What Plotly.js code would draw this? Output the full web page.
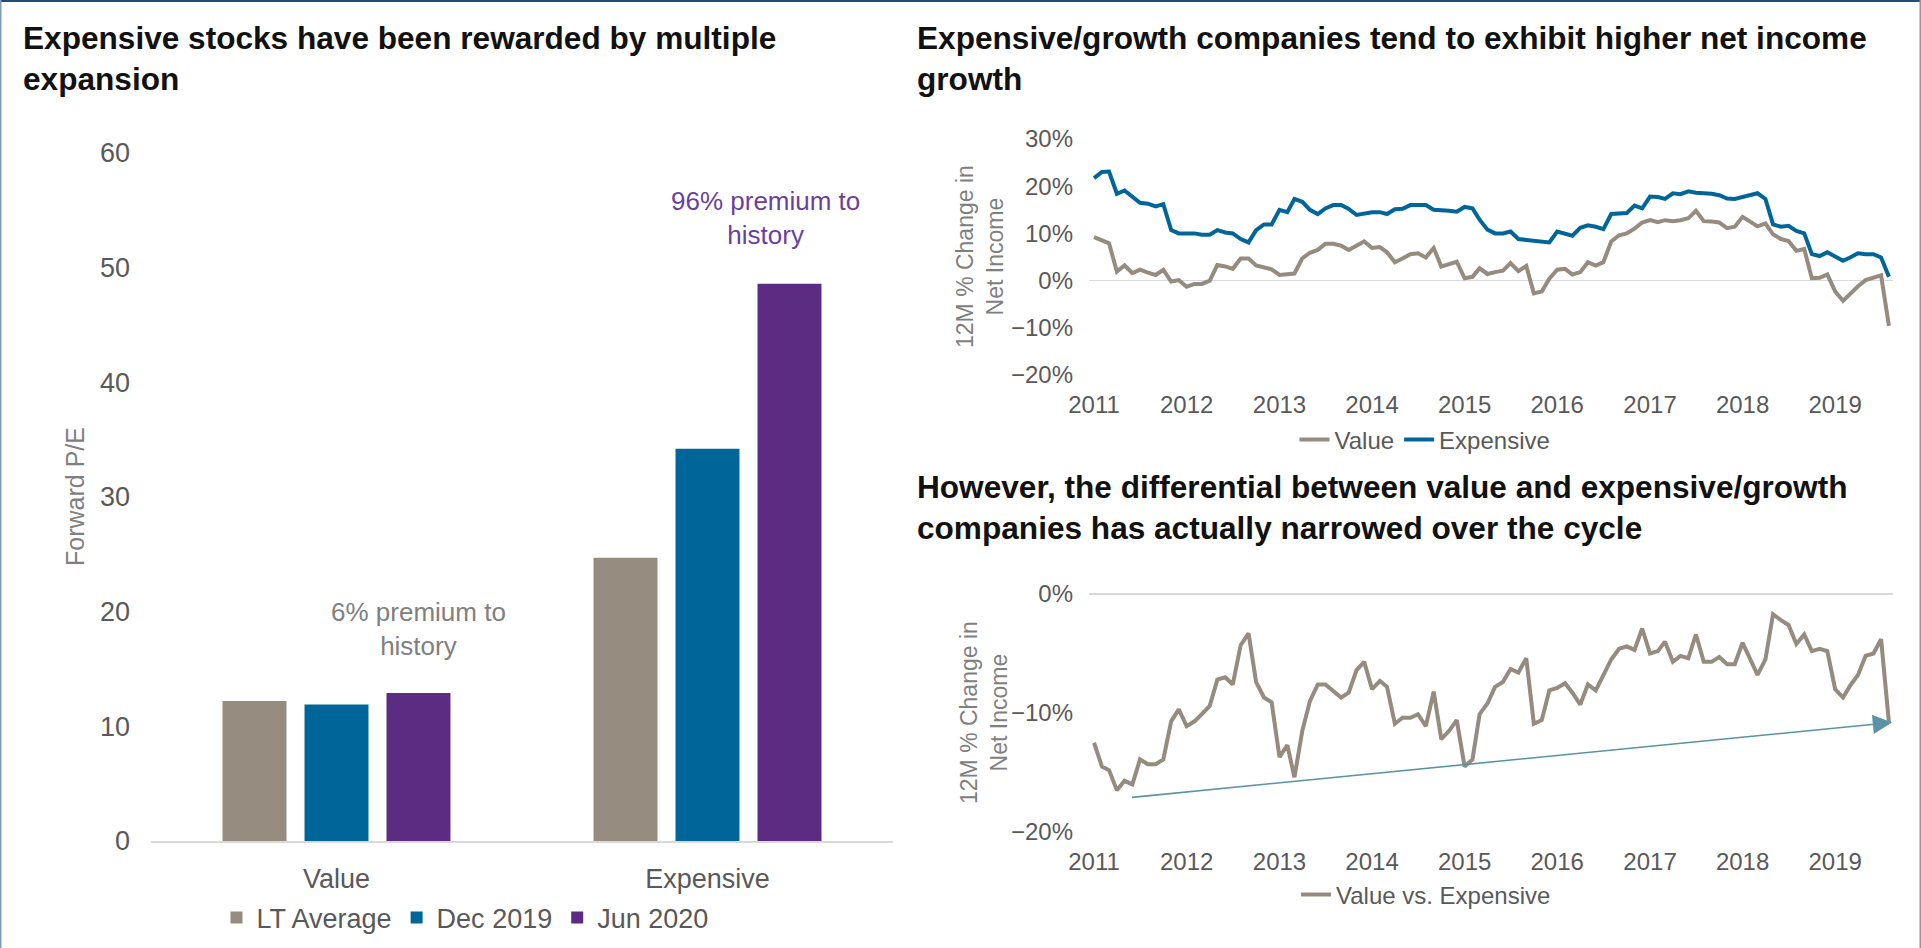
<!DOCTYPE html>
<html>
<head>
<meta charset="utf-8">
<script src="https://cdn.plot.ly/plotly-3.0.1.min.js"></script>
<style>html,body{margin:0;padding:0;background:#fff;}#chart{width:1921px;height:948px;}</style>
</head>
<body>
<div id="chart"></div>
<script>
// ---------- Data ----------
const barCategories = ['Value', 'Expensive'];
const ltAverage = [12.2, 24.7];
const dec2019 = [11.9, 34.2];
const jun2020 = [12.9, 48.6];

const startMonth = '2011-01'; // monthly series, Jan 2011 - Aug 2019
const valueGrowth = [
  9.2, 8.4, 7.9, 1.9, 3.2, 1.6, 2.3, 1.7, 1.2, 2.3, -0.2, 0.1,
  -1.3, -0.7, -0.7, 0.0, 3.3, 3.0, 2.5, 4.7, 4.7, 3.2, 2.8, 2.4,
  1.2, 1.4, 1.5, 4.7, 5.9, 6.5, 7.8, 7.8, 7.4, 6.5, 7.4, 8.3,
  6.9, 7.1, 6.0, 3.9, 4.7, 5.6, 5.8, 4.9, 6.9, 3.0, 3.5, 4.0,
  0.5, 0.8, 2.6, 1.4, 1.8, 2.1, 3.7, 2.0, 3.1, -2.7, -2.3, 0.4,
  2.3, 2.5, 1.3, 1.8, 3.9, 3.2, 3.9, 8.3, 9.6, 10.0, 11.0, 12.3,
  12.8, 12.4, 12.8, 12.6, 12.8, 13.2, 14.8, 12.6, 12.5, 12.3, 11.1, 11.4,
  13.5, 12.4, 11.5, 12.1, 9.8, 8.8, 8.4, 6.3, 6.7, 0.5, 0.6, 1.3,
  -2.3, -4.3, -2.8, -1.2, 0.1, 0.6, 1.1, -9.6
];
const expensiveGrowth = [
  21.7, 23.0, 23.1, 18.4, 19.1, 17.8, 16.5, 16.3, 15.7, 16.2, 10.7, 10.0,
  10.0, 10.0, 9.7, 9.7, 10.7, 10.2, 10.0, 8.8, 8.1, 10.7, 11.9, 11.9,
  15.0, 14.5, 17.3, 16.7, 15.0, 14.1, 15.3, 16.0, 16.0, 15.2, 13.9, 14.3,
  14.5, 14.5, 14.1, 15.1, 15.2, 16.0, 16.0, 16.0, 15.0, 15.0, 14.8, 14.6,
  15.6, 15.3, 12.9, 10.8, 10.0, 10.0, 10.4, 8.8, 8.6, 8.3, 8.2, 8.1,
  10.4, 10.0, 9.5, 11.2, 11.7, 11.4, 10.9, 14.1, 14.3, 14.3, 15.9, 15.3,
  17.8, 17.7, 17.3, 18.5, 18.3, 18.9, 18.6, 18.6, 18.4, 18.1, 17.4, 17.3,
  17.7, 18.2, 18.5, 17.3, 11.9, 11.4, 11.6, 10.5, 10.0, 5.6, 5.2, 6.0,
  5.2, 4.2, 4.9, 5.8, 5.6, 5.6, 4.9, 0.8
];
const valueVsExpensive = [
  -12.5, -14.5, -14.8, -16.5, -15.7, -16.0, -13.9, -14.3, -14.3, -13.9, -10.7, -9.7,
  -11.1, -10.7, -10.1, -9.4, -7.2, -7.0, -7.6, -4.3, -3.3, -7.4, -8.7, -9.1,
  -13.7, -12.7, -15.4, -11.5, -9.0, -7.6, -7.6, -8.1, -8.7, -8.3, -6.4, -5.7,
  -8.0, -7.3, -7.8, -10.9, -10.4, -10.4, -10.1, -11.1, -8.2, -12.2, -11.5, -10.6,
  -14.5, -13.9, -10.1, -9.2, -7.8, -7.4, -6.3, -6.6, -5.4, -10.9, -10.6, -8.1,
  -7.9, -7.5, -8.3, -9.3, -7.6, -8.1, -6.9, -5.5, -4.6, -4.4, -4.7, -2.9,
  -5.0, -4.8, -4.0, -5.7, -5.2, -5.4, -3.4, -5.7, -5.7, -5.3, -5.9, -5.9,
  -4.1, -5.5, -6.8, -5.5, -1.7, -2.2, -2.6, -4.2, -3.4, -4.8, -4.6, -4.8,
  -8.0, -8.7, -7.7, -6.8, -5.2, -5.0, -3.8, -10.8
];
// trend arrow (start / end)
const trendStart = {date: '2011-05-25', value: -17.1};
const trendEnd = {date: '2019-08-13', value: -10.8};

// ---------- Helpers ----------
function monthDates(start, n) {
  const [y0, m0] = start.split('-').map(Number);
  const out = [];
  for (let i = 0; i < n; i++) {
    const t = (m0 - 1) + i;
    const y = y0 + Math.floor(t / 12);
    const m = (t % 12) + 1;
    out.push(y + '-' + String(m).padStart(2, '0') + '-01');
  }
  return out;
}
const dates = monthDates(startMonth, valueGrowth.length);

const W = 1921, H = 948;
const fx = p => p / W;
const fy = p => 1 - p / H;

const C_GREY = '#958b7f', C_BLUE = '#006699', C_PURPLE = '#5b2c81';
const FONT = 'Liberation Sans, Arial, sans-serif';

const traces = [
  {type: 'bar', name: 'LT Average', x: barCategories, y: ltAverage, marker: {color: C_GREY}, xaxis: 'x', yaxis: 'y', legend: 'legend'},
  {type: 'bar', name: 'Dec 2019', x: barCategories, y: dec2019, marker: {color: C_BLUE}, xaxis: 'x', yaxis: 'y', legend: 'legend'},
  {type: 'bar', name: 'Jun 2020', x: barCategories, y: jun2020, marker: {color: C_PURPLE}, xaxis: 'x', yaxis: 'y', legend: 'legend'},
  {type: 'scatter', mode: 'lines', name: 'Value', x: dates, y: valueGrowth, line: {color: C_GREY, width: 4}, xaxis: 'x2', yaxis: 'y2', legend: 'legend2'},
  {type: 'scatter', mode: 'lines', name: 'Expensive', x: dates, y: expensiveGrowth, line: {color: C_BLUE, width: 4}, xaxis: 'x2', yaxis: 'y2', legend: 'legend2'},
  {type: 'scatter', mode: 'lines', name: 'Value vs. Expensive', x: dates, y: valueVsExpensive, line: {color: C_GREY, width: 4}, xaxis: 'x3', yaxis: 'y3', legend: 'legend3'}
];

const tickGrey = '#595959';
const dateAxis = (dom, anchor) => ({
  domain: dom, anchor: anchor, type: 'date',
  range: ['2010-12-12', '2019-08-17'],
  tick0: '2011-01-01', dtick: 'M12', tickformat: '%Y',
  showgrid: false, zeroline: false, showline: false, ticks: '',
  tickfont: {size: 24, color: tickGrey}, ticklabelstandoff: 13
});
const titleFont = {size: 31.6, color: '#111111', weight: 'bold'};

const layout = {
  width: W, height: H,
  margin: {l: 0, r: 0, t: 0, b: 0},
  paper_bgcolor: '#ffffff', plot_bgcolor: '#ffffff',
  font: {family: FONT, color: tickGrey},
  hovermode: false,
  barmode: 'group', bargap: 0.337, bargroupgap: 0.22,
  xaxis: {
    domain: [fx(151), fx(893)], anchor: 'y',
    showline: true, linecolor: '#d9d9d9', linewidth: 1.5,
    ticks: '', tickfont: {size: 27, color: tickGrey}, ticklabelstandoff: 13
  },
  yaxis: {
    domain: [fy(841), fy(153)], anchor: 'x', range: [0, 60], dtick: 10,
    showgrid: false, zeroline: false, showline: false, ticks: '',
    tickfont: {size: 27, color: tickGrey}, ticklabelstandoff: 20
  },
  xaxis2: dateAxis([fx(1089), fx(1893)], 'y2'),
  yaxis2: {
    domain: [fy(375), fy(139)], anchor: 'x2', range: [-20, 30], dtick: 10, ticksuffix: '%',
    showgrid: false, zeroline: true, zerolinecolor: '#d9d9d9', zerolinewidth: 1.5, showline: false, ticks: '',
    tickfont: {size: 24, color: tickGrey}, ticklabelstandoff: 15
  },
  xaxis3: dateAxis([fx(1089), fx(1893)], 'y3'),
  yaxis3: {
    domain: [fy(832), fy(594)], anchor: 'x3', range: [-20, 0], dtick: 10, ticksuffix: '%',
    showgrid: false, zeroline: true, zerolinecolor: '#d9d9d9', zerolinewidth: 1.5, showline: false, ticks: '',
    tickfont: {size: 24, color: tickGrey}, ticklabelstandoff: 15
  },
  legend: {
    orientation: 'h', x: fx(465), xanchor: 'center', y: fy(918), yanchor: 'middle',
    font: {size: 27, color: tickGrey}, bgcolor: 'rgba(0,0,0,0)', itemwidth: 30
  },
  legend2: {
    orientation: 'h', x: fx(1425), xanchor: 'center', y: fy(440), yanchor: 'middle',
    font: {size: 24, color: tickGrey}, bgcolor: 'rgba(0,0,0,0)'
  },
  legend3: {
    orientation: 'h', x: fx(1426), xanchor: 'center', y: fy(895), yanchor: 'middle',
    font: {size: 24, color: tickGrey}, bgcolor: 'rgba(0,0,0,0)'
  },
  annotations: [
    {xref: 'paper', yref: 'paper', x: fx(21), y: fy(18), xanchor: 'left', yanchor: 'top', align: 'left', showarrow: false,
     text: 'Expensive stocks have been rewarded by multiple<br>expansion', font: titleFont},
    {xref: 'paper', yref: 'paper', x: fx(915), y: fy(18), xanchor: 'left', yanchor: 'top', align: 'left', showarrow: false,
     text: 'Expensive/growth companies tend to exhibit higher net income<br>growth', font: titleFont},
    {xref: 'paper', yref: 'paper', x: fx(915), y: fy(467), xanchor: 'left', yanchor: 'top', align: 'left', showarrow: false,
     text: 'However, the differential between value and expensive/growth<br>companies has actually narrowed over the cycle', font: titleFont},
    {xref: 'paper', yref: 'paper', x: fx(765), y: fy(218), xanchor: 'center', yanchor: 'middle', showarrow: false,
     text: '96% premium to<br>history', font: {size: 26, color: '#6b3fa0'}},
    {xref: 'paper', yref: 'paper', x: fx(418), y: fy(629), xanchor: 'center', yanchor: 'middle', showarrow: false,
     text: '6% premium to<br>history', font: {size: 26, color: '#808080'}},
    {xref: 'paper', yref: 'paper', x: fx(75), y: fy(497), xanchor: 'center', yanchor: 'middle', showarrow: false, textangle: -90,
     text: 'Forward P/E', font: {size: 25, color: '#7f7f7f'}},
    {xref: 'paper', yref: 'paper', x: fx(980), y: fy(257), xanchor: 'center', yanchor: 'middle', showarrow: false, textangle: -90,
     text: '12M % Change in<br>Net Income', font: {size: 23, color: '#7f7f7f'}},
    {xref: 'paper', yref: 'paper', x: fx(984), y: fy(713), xanchor: 'center', yanchor: 'middle', showarrow: false, textangle: -90,
     text: '12M % Change in<br>Net Income', font: {size: 23, color: '#7f7f7f'}},
    {xref: 'x3', yref: 'y3', x: trendEnd.date, y: trendEnd.value, axref: 'x3', ayref: 'y3', ax: trendStart.date, ay: trendStart.value,
     text: '', showarrow: true, arrowhead: 2, arrowsize: 2.4, arrowwidth: 1.6, arrowcolor: '#5a93a3', standoff: 0}
  ],
  shapes: [
    {type: 'line', xref: 'paper', yref: 'paper', x0: 0, x1: 1, y0: 1, y1: 1, line: {color: '#1f4e79', width: 4}},
    {type: 'line', xref: 'paper', yref: 'paper', x0: 0, x1: 0, y0: 0, y1: 1, line: {color: '#7f9cb6', width: 3}},
    {type: 'line', xref: 'paper', yref: 'paper', x0: 1, x1: 1, y0: 0, y1: 1, line: {color: '#7f9cb6', width: 3}}
  ]
};

Plotly.newPlot('chart', traces, layout, {staticPlot: true, displayModeBar: false});
</script>
</body>
</html>
